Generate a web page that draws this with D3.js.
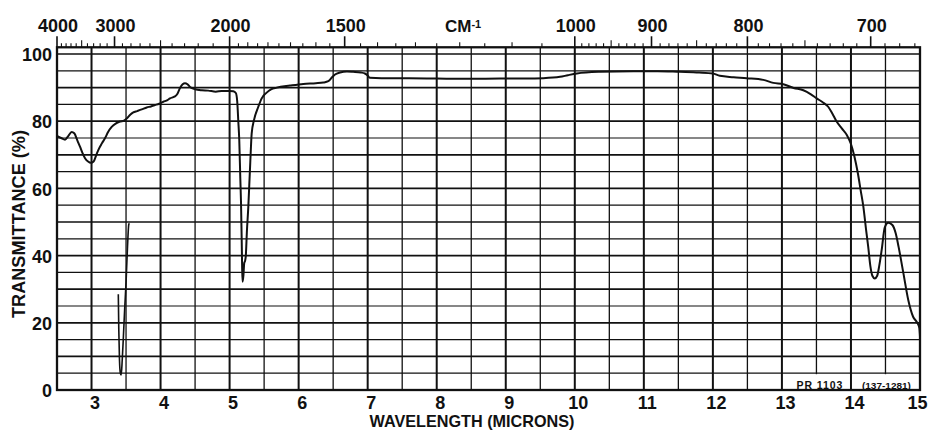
<!DOCTYPE html>
<html><head><meta charset="utf-8">
<script src="https://cdn.jsdelivr.net/npm/d3@7"></script>
<style>
body{margin:0;background:#fff}
text{font-family:"Liberation Sans",Arial,sans-serif;font-weight:bold;fill:#111}
</style>
</head><body><svg id="c" width="929" height="431"></svg>
<script>
// ---------- data ----------
const micronTicks = [3,4,5,6,7,8,9,10,11,12,13,14,15];
const transTicks = [0,20,40,60,80,100];
const wavenumberLabels = [4000,3000,2000,1500,1000,900,800,700];

const mainMicrons = [2.5,2.56,2.616,2.66,2.713,2.75,2.8,2.833,2.87,2.906,2.95,2.99,3.03,3.07,3.098,3.15,3.195,3.24,3.292,3.35,3.412,3.47,3.51,3.56,3.605,3.66,3.727,3.8,3.86,3.92,3.98,4.04,4.1,4.137,4.2,4.24,4.28,4.32,4.354,4.39,4.426,4.5,4.6,4.69,4.8,4.886,5.0,5.054,5.09,5.11,5.126,5.14,5.155,5.165,5.175,5.182,5.188,5.2,5.212,5.225,5.235,5.25,5.271,5.285,5.3,5.32,5.354,5.416,5.465,5.537,5.6,5.682,5.875,6.068,6.25,6.357,6.43,6.48,6.527,6.6,6.7,6.79,6.9,6.96,7.0,7.03,7.2,7.6,8.0,8.5,8.917,9.3,9.54,9.786,9.9,10.03,10.365,10.85,11.2,11.52,11.8,12.0,12.1,12.3,12.49,12.73,12.875,13.02,13.17,13.31,13.42,13.504,13.6,13.67,13.73,13.79,13.87,13.94,14.0,14.05,14.1,14.14,14.18,14.22,14.25,14.28,14.31,14.345,14.38,14.41,14.445,14.49,14.54,14.6,14.65,14.69,14.76,14.83,14.9,14.96,14.99,15.0];
const mainTransmittance = [75.6,75.0,74.5,75.5,76.8,76.4,74.0,72.4,70.5,69.0,68.0,67.6,68.0,70.0,71.4,73.4,74.9,76.8,78.3,79.3,79.9,80.2,80.8,81.9,82.6,83.0,83.5,84.1,84.4,84.8,85.2,85.8,86.3,86.8,87.3,88.0,89.8,91.0,91.3,91.0,90.2,89.5,89.2,89.1,88.8,89.0,89.0,88.9,88.4,86.0,80.0,74.4,63,56,45,36,32.2,34,37.8,38.5,40,47,54.5,61,68,76.4,80.4,84.3,86.8,88.5,89.5,90.0,90.6,91.1,91.3,91.5,91.9,93.0,93.9,94.5,94.8,94.7,94.5,94.2,93.6,92.9,92.8,92.8,92.7,92.6,92.7,92.7,92.8,93.2,93.7,94.2,94.7,94.9,94.9,94.7,94.5,94.2,93.5,93.1,92.8,92.3,91.4,91.0,89.9,89.2,88.0,86.8,85.5,84.3,82.3,80.0,77.8,75.9,73.2,69.5,64.5,59.5,54.5,47.5,42.6,37.0,34.0,33.2,34.0,37.0,41.7,48.4,49.8,49.1,46.5,42.6,34.7,26.8,21.8,20.0,18.5,16.0];

// C-H stretching band, drawn as a separate pen stroke
const bandMicrons = [3.388,3.395,3.405,3.418,3.43,3.445,3.462,3.48,3.5,3.52,3.54,3.55];
const bandTransmittance = [28.5,18,9,5,4.5,9,16,24,32,42,49.3,49.6];

// ---------- layout ----------
const svg = d3.select("#c");
const x = d3.scaleLinear().domain([2.5,15]).range([57,920]);
const y = d3.scaleLinear().domain([0,100]).range([390,54]);
const topY = y(102);
const ink = "#111";

// grid
const g = svg.append("g");
g.selectAll(".h").data(d3.range(5,101,5)).join("line")
  .attr("x1",x(2.5)).attr("x2",x(15))
  .attr("y1",d=>y(d)).attr("y2",d=>y(d))
  .attr("stroke",ink).attr("stroke-width",d=>d%10===0?1.7:1.2);
g.selectAll(".v").data(d3.range(3,15,0.5)).join("line")
  .attr("y1",topY).attr("y2",y(0))
  .attr("x1",d=>x(d)).attr("x2",d=>x(d))
  .attr("stroke",ink).attr("stroke-width",d=>Number.isInteger(d)?2:1.3);

// label box at bottom right
g.selectAll(".box").data([[13,14],[14,15]]).join("rect")
  .attr("x",d=>x(d[0])+1.3).attr("width",d=>x(d[1])-x(d[0])-2.6)
  .attr("y",y(5)+1).attr("height",y(0)-y(5)-2)
  .attr("fill","#fff");
svg.append("text").attr("x",(x(13)+x(14))/2+3).attr("y",389)
  .attr("text-anchor","middle").attr("font-size",10.5)
  .attr("textLength",46).attr("lengthAdjust","spacing").text("PR 1103");
svg.append("text").attr("x",(x(14)+x(15))/2+1).attr("y",388.5)
  .attr("text-anchor","middle").attr("font-size",8.5)
  .attr("textLength",49).attr("lengthAdjust","spacingAndGlyphs").text("(137-1281)");

// border
svg.append("rect").attr("x",x(2.5)).attr("y",topY)
  .attr("width",x(15)-x(2.5)).attr("height",y(0)-topY)
  .attr("fill","none").attr("stroke",ink).attr("stroke-width",2.3);

// top wavenumber ticks
const wn = [];
for (let w=4000; w>3000; w-=100) wn.push({w, s: w===4000?3:(w===3500?2:1)});
for (let w=3000; w>2000; w-=100) wn.push({w, s: w===3000?3:(w===2500?2:1)});
for (let w=2000; w>1000; w-=50) wn.push({w, s: (w===2000||w===1500)?3:(w%100===0?1.5:1)});
for (let w=1000; w>=670; w-=10) wn.push({w, s: w%100===0?3:(w%50===0?2:1)});
const tickLen = {1:4,1.5:5,2:7,3:11};
svg.selectAll(".wt").data(wn).join("line")
  .attr("x1",d=>x(1e4/d.w)).attr("x2",d=>x(1e4/d.w))
  .attr("y1",topY).attr("y2",d=>topY-tickLen[d.s])
  .attr("stroke",ink).attr("stroke-width",d=>d.s===3?1.6:1.1);

svg.selectAll(".wl").data(wavenumberLabels).join("text")
  .attr("x",d=>x(1e4/d)+1).attr("y",32)
  .attr("text-anchor","middle").attr("font-size",18).text(d=>d);
const cm = svg.append("text").attr("x",445).attr("y",32).attr("font-size",17);
cm.append("tspan").text("CM");
cm.append("tspan").attr("font-size",11).attr("dy",-4).text("-1");

// bottom axis labels
const xAxis = d3.axisBottom(x).tickValues(micronTicks).tickSize(0).tickPadding(5).tickFormat(d3.format("d"));
const xa = svg.append("g").attr("transform",`translate(0,${y(0)+1})`).call(xAxis);
xa.select(".domain").remove();
xa.selectAll(".tick text").attr("font-size",18).attr("fill",ink)
  .attr("dx",d=>d===15?-3:3)
  .style("font-family","'Liberation Sans',Arial,sans-serif").style("font-weight","bold");

// left axis labels
const yAxis = d3.axisLeft(y).tickValues(transTicks).tickSize(0).tickPadding(4);
const ya = svg.append("g").attr("transform",`translate(${x(2.5)-1},1)`).call(yAxis);
ya.select(".domain").remove();
ya.selectAll("text").attr("font-size",18).attr("fill",ink)
  .style("font-family","'Liberation Sans',Arial,sans-serif").style("font-weight","bold");

// axis titles
svg.append("text").attr("x",472).attr("y",427).attr("text-anchor","middle")
  .attr("font-size",17).attr("textLength",205).attr("lengthAdjust","spacingAndGlyphs")
  .text("WAVELENGTH  (MICRONS)");
svg.append("text").attr("transform","translate(25,224) rotate(-90)")
  .attr("text-anchor","middle").attr("font-size",18)
  .attr("textLength",188).attr("lengthAdjust","spacingAndGlyphs")
  .text("TRANSMITTANCE (%)");

// traces
const line = d3.line().x(d=>x(d[0])).y(d=>y(d[1])).curve(d3.curveMonotoneX);
svg.append("path").datum(mainMicrons.map((m,i)=>[m,mainTransmittance[i]]))
  .attr("d",line).attr("fill","none").attr("stroke",ink).attr("stroke-width",2)
  .attr("stroke-linejoin","round");
svg.append("path").datum(bandMicrons.map((m,i)=>[m,bandTransmittance[i]]))
  .attr("d",line).attr("fill","none").attr("stroke",ink).attr("stroke-width",1.6)
  .attr("stroke-linejoin","round");
</script>
</body></html>
